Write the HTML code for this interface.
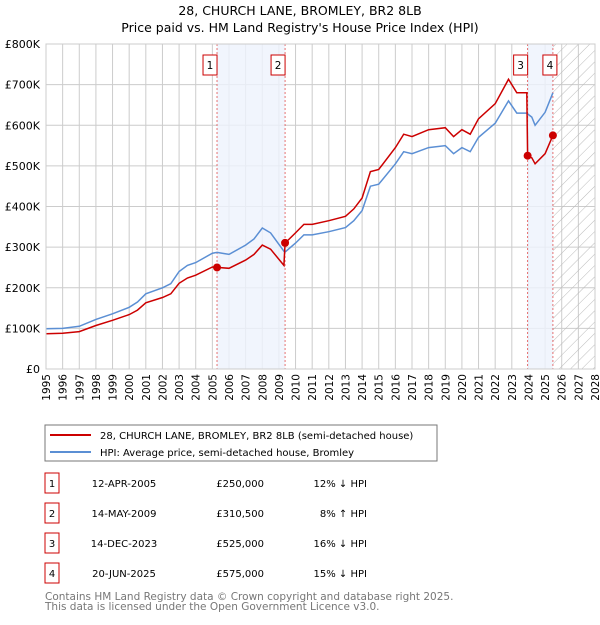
<!DOCTYPE html>
<html><head><meta charset="utf-8"><style>
body{margin:0;background:#fff;font-family:"Liberation Sans","DejaVu Sans",sans-serif;}
svg text{font-family:"DejaVu Sans","Liberation Sans",sans-serif;}
</style></head><body>
<svg id="c" width="600" height="620" viewBox="0 0 600 620" xmlns="http://www.w3.org/2000/svg">
<defs><pattern id="hatch" width="8" height="8" patternUnits="userSpaceOnUse" patternTransform="rotate(45)"><line x1="0" y1="0" x2="0" y2="8" stroke="#bbb" stroke-width="1"/></pattern></defs>
<text x="300" y="15" text-anchor="middle" font-size="12.5">28, CHURCH LANE, BROMLEY, BR2 8LB</text>
<text x="300" y="32" text-anchor="middle" font-size="12.5">Price paid vs. HM Land Registry's House Price Index (HPI)</text>
<g id="grid"></g><g id="shade"></g><g id="series"></g><g id="axes"></g>
<rect x="45" y="425" width="392" height="36" fill="#fff" stroke="#777"/>
<line x1="50" y1="435" x2="91" y2="435" stroke="#cc0000" stroke-width="2"/>
<text x="100" y="439" font-size="10">28, CHURCH LANE, BROMLEY, BR2 8LB (semi-detached house)</text>
<line x1="50" y1="452" x2="91" y2="452" stroke="#5b8fd4" stroke-width="2"/>
<text x="100" y="456" font-size="10">HPI: Average price, semi-detached house, Bromley</text>
<g id="table" font-size="10"></g>
<text x="45" y="600" font-size="10.5" fill="#777">Contains HM Land Registry data © Crown copyright and database right 2025.</text>
<text x="45" y="610" font-size="10.5" fill="#777">This data is licensed under the Open Government Licence v3.0.</text>
</svg>
<script>
const times=[1995,1996,1997,1998,1999,2000,2000.5,2001,2002,2002.5,2003,2003.5,2004,2005,2005.28,2006,2007,2007.5,2008,2008.5,2009.3,2009.37,2010,2010.5,2011,2012,2013,2013.5,2014,2014.5,2015,2016,2016.5,2017,2018,2019,2019.5,2020,2020.5,2021,2022,2022.8,2023.3,2023.9,2023.95,2024.2,2024.4,2025,2025.47];
const hpiValues=[99,100,105,122,136,152,165,185,200,210,240,255,262,285,287,282,305,320,347,335,290,288,310,330,330,338,348,365,390,450,455,505,535,530,545,550,530,545,535,570,605,660,630,630,628,620,600,632,680];
const propertyValues=[87,88,92,107,120,134,145,163,176,185,211,224,231,251,250,248,268,282,305,295,255,310,335,356,356,365,376,394,421,486,491,545,578,572,589,594,572,589,578,616,653,713,680,680,525,520,505,530,575];
const saleTimes=[2005.28,2009.37,2023.95,2025.47];
const salePrices=[250,310.5,525,575];
const saleDates=["12-APR-2005","14-MAY-2009","14-DEC-2023","20-JUN-2025"];
const saleLabels=["£250,000","£310,500","£525,000","£575,000"];
const saleDiffs=["12% \u2193 HPI","8% \u2191 HPI","16% \u2193 HPI","15% \u2193 HPI"];
const yTicks=[0,100,200,300,400,500,600,700,800];
const yTickLabels=["£0","£100K","£200K","£300K","£400K","£500K","£600K","£700K","£800K"];
const xStart=1995,xEnd=2028;
const L=46,R=595,T=44,B=369;
const X=t=>L+(t-xStart)/(xEnd-xStart)*(R-L);
const Y=v=>B-v/800*(B-T);
const NS="http://www.w3.org/2000/svg";
function mk(tag,attrs,parent,txt){const e=document.createElementNS(NS,tag);for(const k in attrs)e.setAttribute(k,attrs[k]);if(txt!=null)e.textContent=txt;parent.appendChild(e);return e;}
const grid=document.getElementById('grid'),shade=document.getElementById('shade'),ser=document.getElementById('series'),axes=document.getElementById('axes'),table=document.getElementById('table');
// shading
for(const [a,b] of [[0,1],[2,3]]){const r=mk('rect',{x:X(saleTimes[a]),y:T,width:X(saleTimes[b])-X(saleTimes[a]),height:B-T,fill:'#eef3fc',opacity:0.8},shade);

}
const h=mk('rect',{x:X(saleTimes[3]),y:T,width:R-X(saleTimes[3]),height:B-T,fill:'url(#hatch)'},shade);


for(let yr=xStart;yr<=xEnd;yr++){const l=mk('line',{x1:X(yr),x2:X(yr),y1:T,y2:B,stroke:'#ccc'},grid);


const t=mk('text',{x:0,y:0,'font-size':10.5,'text-anchor':'end',transform:`translate(${X(yr)+4},${B+5}) rotate(-90)`},axes,String(yr));

}
yTicks.forEach((v,i)=>{const l=mk('line',{x1:L,x2:R,y1:Y(v),y2:Y(v),stroke:'#ccc'},grid);


const t=mk('text',{x:L-6,y:Y(v)+4,'font-size':11,'text-anchor':'end'},axes,yTickLabels[i]);

});
// sale lines + markers
saleTimes.forEach((t,i)=>{const l=mk('line',{x1:X(t),x2:X(t),y1:T,y2:B,stroke:'#e05050','stroke-dasharray':'2,2','stroke-width':0.8},shade);


const bx=X(t)+(i==2?-7:(i==3?-3:-7)), by=55;
const r=mk('rect',{x:bx-7,y:by,width:14,height:20,fill:'#fff',stroke:'#cc0000'},axes);


const tx=mk('text',{x:bx,y:by+14,'font-size':10.5,'text-anchor':'middle'},axes,String(i+1));

});
function path(vals){return vals.map((v,i)=>(i?'L':'M')+X(times[i]).toFixed(1)+','+Y(v).toFixed(1)).join('');}
const hp=mk('path',{d:path(hpiValues),fill:'none',stroke:'#5b8fd4','stroke-width':1.5},ser);


const pp=mk('path',{d:path(propertyValues),fill:'none',stroke:'#cc0000','stroke-width':1.5},ser);


saleTimes.forEach((t,i)=>{const c=mk('circle',{cx:X(t),cy:Y(salePrices[i]),r:4,fill:'#cc0000'},ser);

});
mk('rect',{x:L,y:T,width:R-L,height:B-T,fill:'none',stroke:'#ccc'},axes);
// table
saleDates.forEach((d,i)=>{const y=473+i*30;
const r=mk('rect',{x:45,y:y,width:14,height:20,fill:'#fff',stroke:'#cc0000'},table);


const n=mk('text',{x:52,y:y+14,'text-anchor':'middle'},table,String(i+1));


const a=mk('text',{x:124,y:y+14,'text-anchor':'middle'},table,d);


const b=mk('text',{x:264,y:y+14,'text-anchor':'end'},table,saleLabels[i]);


const c=mk('text',{x:367,y:y+14,'text-anchor':'end'},table,saleDiffs[i]);

});
</script>
</body></html>
